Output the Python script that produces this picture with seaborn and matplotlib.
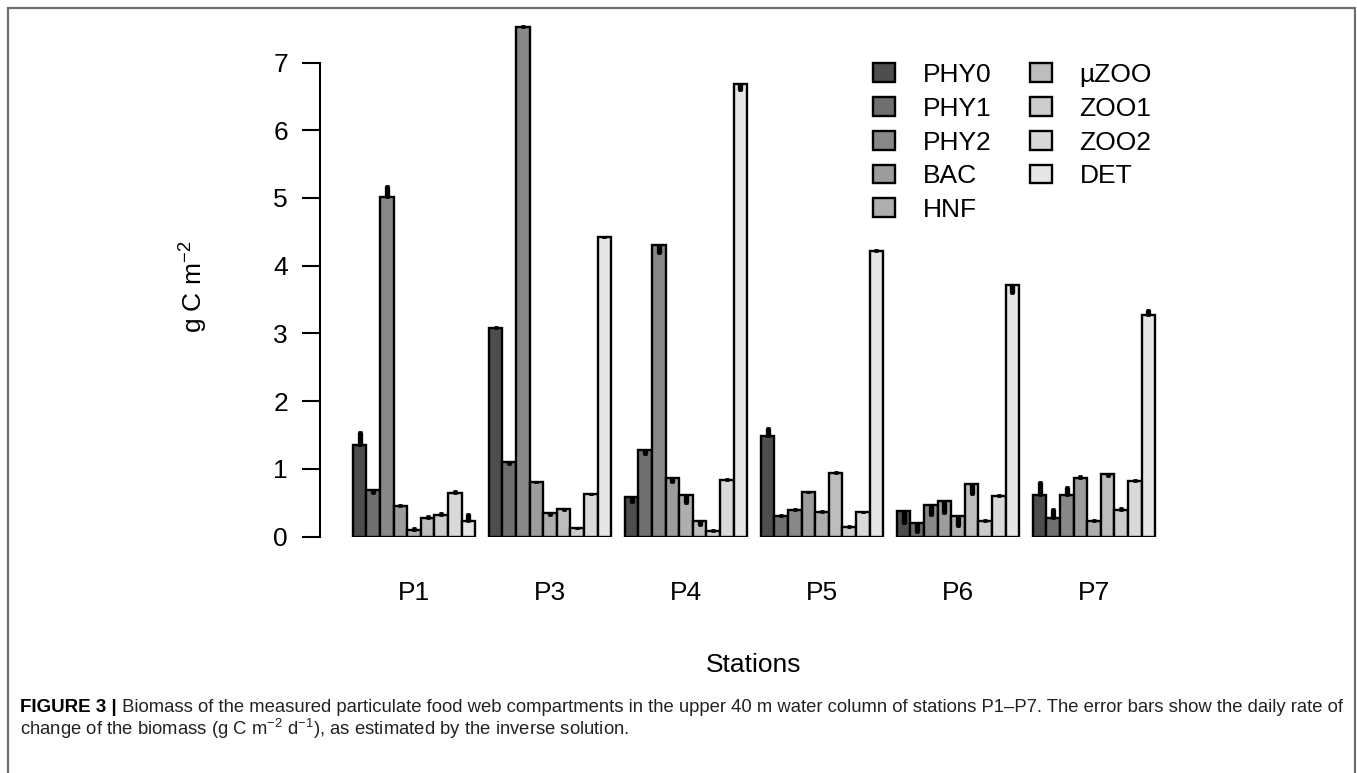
import pandas as pd
import matplotlib.pyplot as plt
import seaborn as sns
from matplotlib.patches import Rectangle

# values (g C m-2) and daily rate of change (g C m-2 d-1)
stations = ['P1', 'P3', 'P4', 'P5', 'P6', 'P7']
compartments = ['PHY0', 'PHY1', 'PHY2', 'BAC', 'HNF', 'µZOO', 'ZOO1', 'ZOO2', 'DET']

p1 = [1.35, 0.68, 5.02, 0.45, 0.10, 0.27, 0.32, 0.645, 0.23]
p3 = [3.08, 1.10, 7.53, 0.80, 0.34, 0.41, 0.12, 0.625, 4.42]
p4 = [0.59, 1.285, 4.30, 0.86, 0.61, 0.23, 0.08, 0.84, 6.68]
p5 = [1.48, 0.31, 0.39, 0.65, 0.36, 0.94, 0.14, 0.355, 4.22]
p6 = [0.38, 0.20, 0.465, 0.525, 0.30, 0.775, 0.235, 0.60, 3.72]
p7 = [0.62, 0.28, 0.61, 0.87, 0.23, 0.92, 0.39, 0.82, 3.27]

r1 = [0.20, -0.04, 0.15, 0.01, 0.03, 0.03, 0.03, 0.02, 0.10]
r3 = [0.02, -0.03, 0.01, 0.01, -0.02, -0.02, 0.01, 0.01, 0.01]
r4 = [-0.08, -0.07, -0.11, -0.06, -0.11, -0.06, 0.01, 0.01, -0.08]
r5 = [0.13, 0.01, 0.01, 0.01, 0.01, 0.01, 0.01, 0.01, 0.01]
r6 = [-0.18, -0.13, -0.15, -0.18, -0.15, -0.14, 0.01, 0.01, -0.13]
r7 = [0.18, 0.12, 0.12, 0.02, 0.01, -0.02, 0.03, 0.02, 0.08]

grays = ['#4D4D4D', '#6F6F6F', '#888888', '#9C9C9C', '#AEAEAE',
         '#BDBDBD', '#CCCCCC', '#D9D9D9', '#E6E6E6']

biomass = [p1, p3, p4, p5, p6, p7]
rates = [r1, r3, r4, r5, r6, r7]
rows = []
for s, vals, rr in zip(stations, biomass, rates):
    for c, v, r in zip(compartments, vals, rr):
        rows.append({'station': s, 'comp': c, 'biomass': v, 'rate': r})
df = pd.DataFrame(rows)

sns.set_style('ticks')
plt.rcParams['font.family'] = ['Liberation Sans', 'DejaVu Sans']
plt.rcParams['mathtext.fontset'] = 'custom'
plt.rcParams['mathtext.rm'] = 'Liberation Sans'
plt.rcParams['mathtext.it'] = 'Liberation Sans:italic'
for k in ['text.color', 'axes.labelcolor', 'xtick.color', 'ytick.color', 'axes.edgecolor']:
    plt.rcParams[k] = 'black'

W, H = 1357, 773
fig = plt.figure(figsize=(W / 100, H / 100), dpi=100)
base, top, left, right = 536.5, 20, 320, 1200
ppu = 67.7
ax = fig.add_axes([left / W, (H - base) / H, (right - left) / W, (base - top) / H])

sns.barplot(data=df, x='station', y='biomass', hue='comp', order=stations,
            hue_order=compartments, palette=grays, width=0.9,
            edgecolor='black', linewidth=1.7, errorbar=None, ax=ax)

# error bars: from the biomass to biomass + daily rate
for cont, comp in zip(ax.containers, compartments):
    sub = df[df['comp'] == comp].set_index('station').loc[stations]
    xs = [p.get_x() + p.get_width() / 2 for p in cont]
    lo = [max(-r, 0) for r in sub['rate']]
    hi = [max(r, 0) for r in sub['rate']]
    ax.errorbar(xs, sub['biomass'], yerr=[lo, hi], fmt='none', ecolor='black',
                elinewidth=3.8, capsize=1.6, capthick=2, zorder=5)

ax.set_xlim((left - 414) / 136, (right - 414) / 136)
ax.set_ylim(0, (base - top) / ppu)
ax.set_yticks(range(0, 8))
ax.spines['left'].set_bounds(0, 7)
for sp in ['top', 'right', 'bottom']:
    ax.spines[sp].set_visible(False)
ax.spines['left'].set_linewidth(1.5)
ax.tick_params(axis='y', length=13, width=1.5, pad=10, labelsize=19)
ax.tick_params(axis='x', length=0, pad=32, labelsize=19)
ax.set_xlabel('')
ax.set_ylabel('')

handles, labels = ax.get_legend_handles_labels()
for h in handles:
    h.set_edgecolor('black')
    h.set_linewidth(1.7)
ax.legend(handles, labels, ncol=2, frameon=False, fontsize=19,
          loc='upper left', bbox_to_anchor=(873 / W, 1 - 63 / H),
          bbox_transform=fig.transFigure, borderpad=0, borderaxespad=0,
          handlelength=0.83, handleheight=0.72, handletextpad=1.06,
          labelspacing=0.37, columnspacing=1.44)

fig.text(194 / W, 1 - 287 / H, r'g C m$^{-2}$', rotation=90, fontsize=19,
         ha='center', va='center')
fig.text(754 / W, 1 - 665 / H, 'Stations', fontsize=19, ha='center', va='center')

# outer frame of the figure box
fig.patches.append(Rectangle((8 / W, -0.05), (1355 - 8) / W, 1.05 - 8 / H,
                             transform=fig.transFigure, fill=False,
                             edgecolor='#6E6E6E', linewidth=1.6))

# caption
bold = fig.text(20 / W, 1 - 712 / H, 'FIGURE 3 |', fontsize=13.5, fontweight='bold',
                ha='left', va='baseline')
ax.annotate(' Biomass of the measured particulate food web compartments in the upper 40 m '
            'water column of stations P1–P7. The error bars show the daily rate of',
            xy=(1, 0), xycoords=bold, fontsize=13.3, ha='left', va='bottom',
            color='#222222', annotation_clip=False)
fig.text(20 / W, 1 - 735 / H,
         r'change of the biomass (g C m$^{-2}$ d$^{-1}$), as estimated by the inverse solution.',
         fontsize=13.3, ha='left', va='baseline', color='#222222')

fig.savefig('out.png', dpi=100)
